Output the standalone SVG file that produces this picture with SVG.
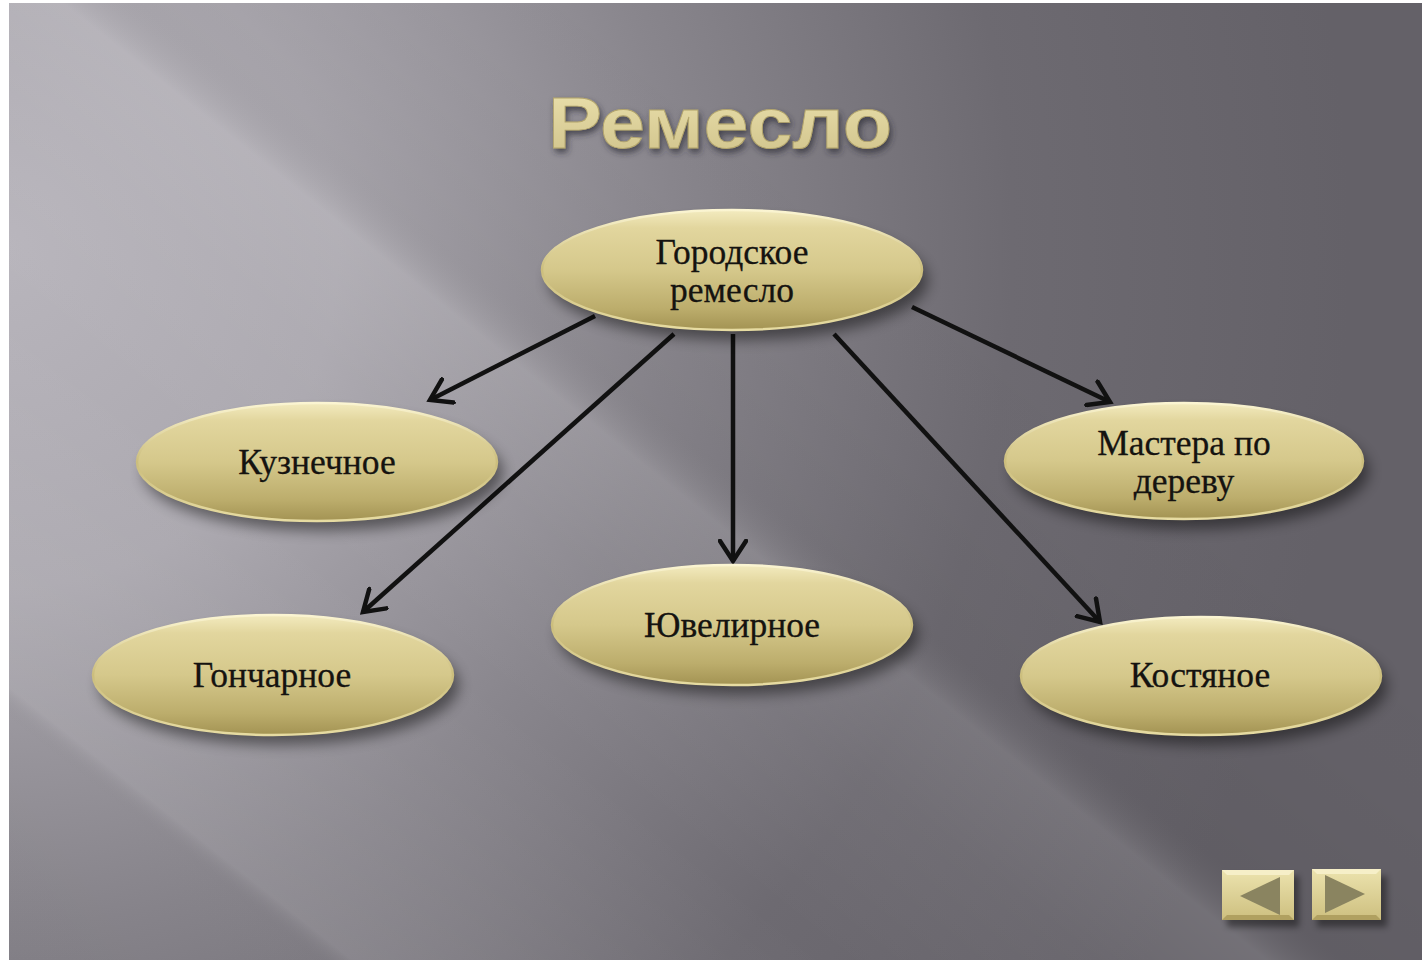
<svg xmlns="http://www.w3.org/2000/svg" width="1422" height="960" viewBox="0 0 1422 960">
<defs>
<radialGradient id="bg" gradientUnits="userSpaceOnUse" cx="0" cy="250" r="1350">
<stop offset="0" stop-color="#b8b5bc"/>
<stop offset="0.25" stop-color="#aba8af"/>
<stop offset="0.5" stop-color="#89868d"/>
<stop offset="0.75" stop-color="#6d6a71"/>
<stop offset="1" stop-color="#646168"/>
</radialGradient>
<linearGradient id="streak" gradientUnits="userSpaceOnUse" x1="0" y1="960" x2="1011" y2="-312">
<stop offset="0" stop-color="#000" stop-opacity="0.03"/>
<stop offset="0.12" stop-color="#000" stop-opacity="0.02"/>
<stop offset="0.135" stop-color="#fff" stop-opacity="0.08"/>
<stop offset="0.25" stop-color="#fff" stop-opacity="0.03"/>
<stop offset="0.32" stop-color="#fff" stop-opacity="0"/>
<stop offset="0.42" stop-color="#fff" stop-opacity="0.04"/>
<stop offset="0.485" stop-color="#fff" stop-opacity="0.1"/>
<stop offset="0.515" stop-color="#000" stop-opacity="0.04"/>
<stop offset="0.62" stop-color="#000" stop-opacity="0.01"/>
<stop offset="0.7" stop-color="#000" stop-opacity="0"/>
</linearGradient>
<linearGradient id="gold" x1="0" y1="0" x2="0" y2="1">
<stop offset="0" stop-color="#f3ebbf"/>
<stop offset="0.15" stop-color="#e2d69e"/>
<stop offset="0.5" stop-color="#d5c88b"/>
<stop offset="0.82" stop-color="#bcad6c"/>
<stop offset="1" stop-color="#a39353"/>
</linearGradient>
<linearGradient id="rim" x1="0" y1="0" x2="0" y2="1">
<stop offset="0" stop-color="#fbf5d2"/>
<stop offset="0.5" stop-color="#cbbd7c"/>
<stop offset="1" stop-color="#e7dca2"/>
</linearGradient>
<linearGradient id="titleFill" x1="0" y1="0" x2="0" y2="1">
<stop offset="0" stop-color="#ece2ae"/>
<stop offset="1" stop-color="#cfc28a"/>
</linearGradient>
<linearGradient id="btn" x1="0" y1="0" x2="0" y2="1">
<stop offset="0" stop-color="#ece3ae"/>
<stop offset="1" stop-color="#cdbf7f"/>
</linearGradient>
<filter id="sh" x="-20%" y="-30%" width="140%" height="170%">
<feGaussianBlur stdDeviation="7"/>
</filter>
<filter id="tsh" x="-10%" y="-30%" width="120%" height="160%">
<feGaussianBlur stdDeviation="3"/>
</filter>
<filter id="titleShadow" x="-10%" y="-30%" width="120%" height="170%">
<feDropShadow dx="2" dy="4" stdDeviation="3" flood-color="#2a2830" flood-opacity="0.7"/>
</filter>
<marker id="arr" viewBox="0 0 26 30" refX="22" refY="15" markerWidth="26" markerHeight="30" markerUnits="userSpaceOnUse" orient="auto">
<path d="M2,2 L22,15 L2,28" fill="none" stroke="#111" stroke-width="4.5" stroke-linecap="round" stroke-linejoin="miter"/>
</marker>
</defs>
<style>
.node-shadow{fill:#000;opacity:0.45;filter:url(#sh)}
.node-shape{fill:url(#gold);stroke:url(#rim);stroke-width:2.5}
.node-text{font-family:"Liberation Serif","Times New Roman",serif;font-size:35.5px;fill:#151310;stroke:#151310;stroke-width:0.3;text-anchor:middle}
.conn{stroke:#111;stroke-width:4.5;fill:none;marker-end:url(#arr)}
</style>

<rect x="0" y="0" width="1422" height="960" fill="#ffffff"/>
<g id="background">
<rect x="9" y="3" width="1413" height="957" fill="url(#bg)"/>
<rect x="9" y="3" width="1413" height="957" fill="url(#streak)"/>
</g>

<g id="title">
<text x="720" y="148" font-family="'Liberation Sans',Arial,sans-serif" font-size="73" font-weight="bold" text-anchor="middle" textLength="344" lengthAdjust="spacingAndGlyphs" fill="url(#titleFill)" stroke="#b3a56c" stroke-width="0.8" filter="url(#titleShadow)">Ремесло</text>
</g>

<g id="connectors">
<line class="conn" x1="595" y1="316" x2="430" y2="400"/>
<line class="conn" x1="674" y1="334" x2="363" y2="612"/>
<line class="conn" x1="733" y1="334" x2="733" y2="561"/>
<line class="conn" x1="834" y1="334" x2="1100" y2="622"/>
<line class="conn" x1="912" y1="307" x2="1110" y2="402"/>
</g>

<g id="node-center">
<ellipse class="node-shadow" cx="738" cy="280" rx="190" ry="60"/>
<ellipse class="node-shape" cx="732" cy="270" rx="190" ry="60"/>
<text class="node-text" x="732" y="264">Городское</text>
<text class="node-text" x="732" y="302">ремесло</text>
</g>

<g id="node-kuznechnoe">
<ellipse class="node-shadow" cx="323" cy="472" rx="180" ry="59"/>
<ellipse class="node-shape" cx="317" cy="462" rx="180" ry="59"/>
<text class="node-text" x="317" y="474">Кузнечное</text>
</g>

<g id="node-goncharnoe">
<ellipse class="node-shadow" cx="279" cy="685" rx="180" ry="60"/>
<ellipse class="node-shape" cx="273" cy="675" rx="180" ry="60"/>
<text class="node-text" x="272" y="687">Гончарное</text>
</g>

<g id="node-yuvelirnoe">
<ellipse class="node-shadow" cx="738" cy="635" rx="180" ry="60"/>
<ellipse class="node-shape" cx="732" cy="625" rx="180" ry="60"/>
<text class="node-text" x="732" y="637">Ювелирное</text>
</g>

<g id="node-mastera">
<ellipse class="node-shadow" cx="1190" cy="471" rx="179" ry="58"/>
<ellipse class="node-shape" cx="1184" cy="461" rx="179" ry="58"/>
<text class="node-text" x="1184" y="455">Мастера по</text>
<text class="node-text" x="1184" y="493">дереву</text>
</g>

<g id="node-kostyanoe">
<ellipse class="node-shadow" cx="1207" cy="686" rx="180" ry="59"/>
<ellipse class="node-shape" cx="1201" cy="676" rx="180" ry="59"/>
<text class="node-text" x="1200" y="687">Костяное</text>
</g>

<g id="nav-buttons">
<rect x="1227" y="876" width="72" height="51" fill="#000" opacity="0.4" filter="url(#tsh)"/>
<rect x="1222" y="870" width="72" height="50" fill="url(#btn)"/>
<polygon points="1222,870 1294,870 1289,875 1227,875" fill="#f6efc8"/>
<polygon points="1222,920 1294,920 1289,915 1227,915" fill="#b0a060"/>
<polygon points="1240,896 1280,877 1280,915" fill="#8a8460"/>
<rect x="1317" y="876" width="70" height="51" fill="#000" opacity="0.4" filter="url(#tsh)"/>
<rect x="1312" y="869" width="69" height="51" fill="url(#btn)"/>
<polygon points="1312,869 1381,869 1376,874 1317,874" fill="#f6efc8"/>
<polygon points="1312,920 1381,920 1376,915 1317,915" fill="#b0a060"/>
<polygon points="1325,875 1365,894 1325,913" fill="#8a8460"/>
</g>
</svg>
